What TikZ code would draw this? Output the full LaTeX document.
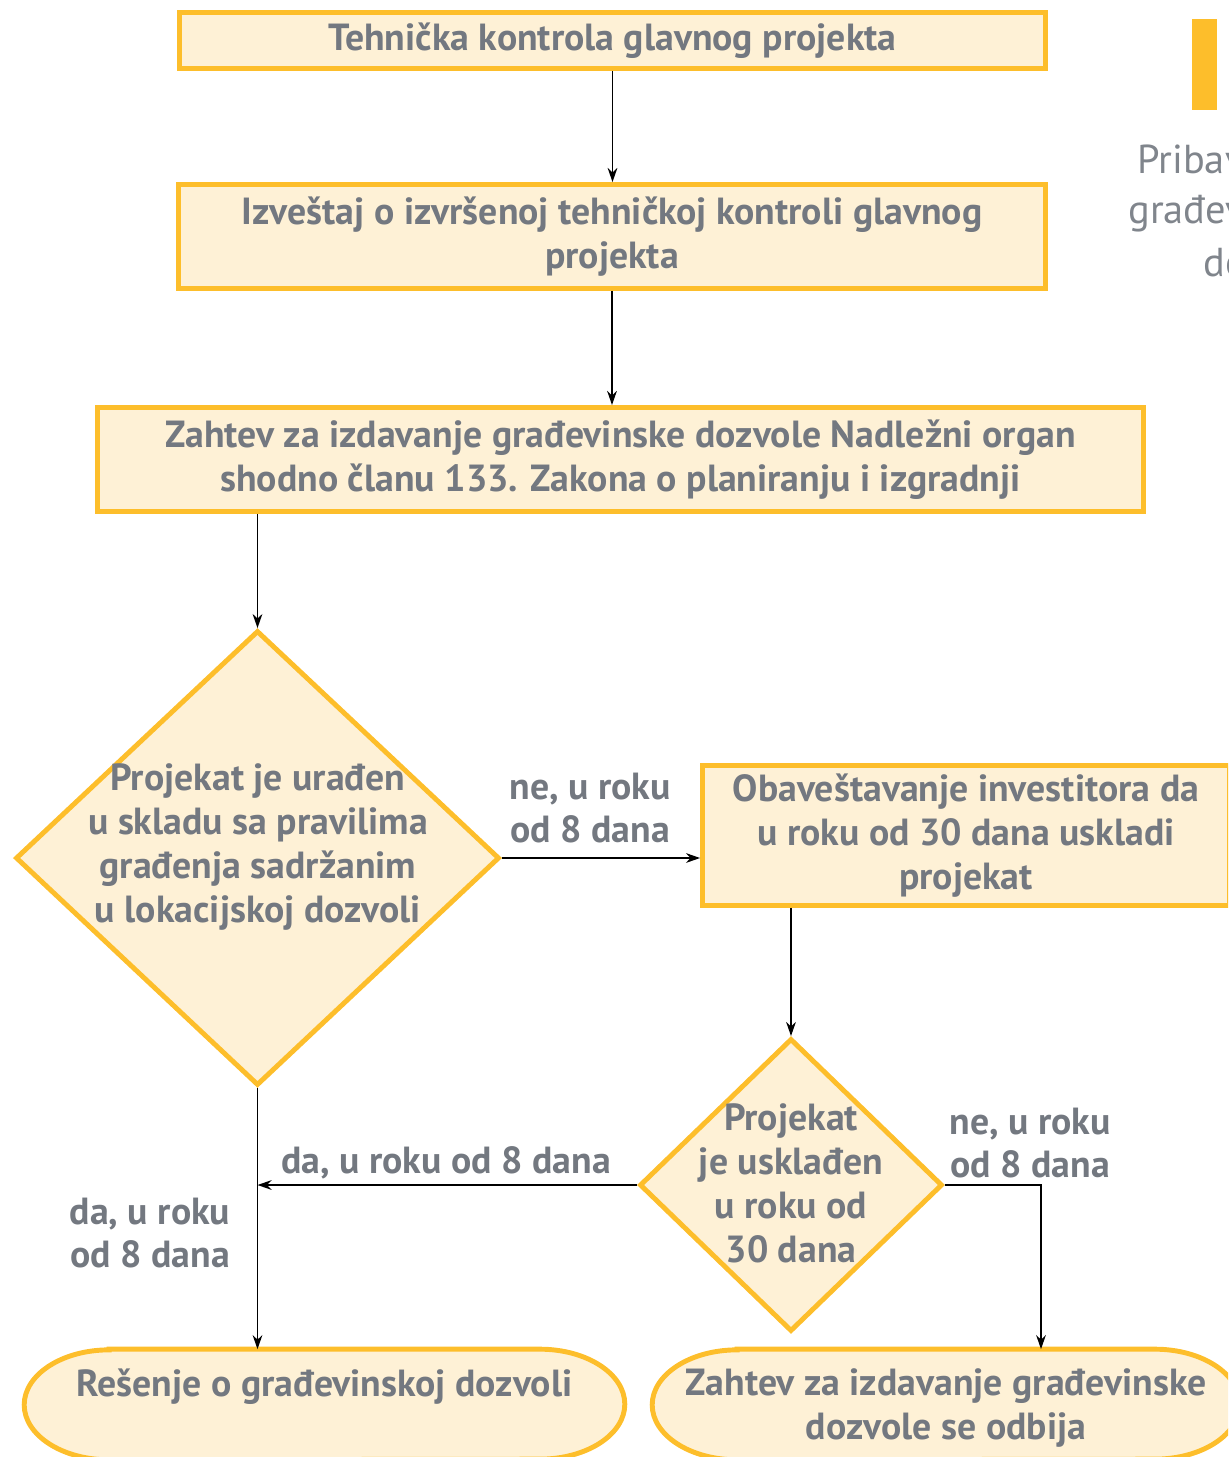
\documentclass[tikz,border=0pt]{standalone}
\usepackage{fontspec}
\setmainfont{PT Sans}
\usepackage{xcolor}
\usepackage{tikz}
\usetikzlibrary{calc,arrows.meta,positioning,shapes.geometric}

\definecolor{boxfill}{HTML}{FEF1D6}
\definecolor{boxline}{HTML}{FDBE2B}
\definecolor{txtgray}{HTML}{737880}
\definecolor{sidegray}{HTML}{80858C}
\newcommand{\flowfont}{\fontsize{21.5}{25}\selectfont\bfseries}
\newcommand{\sidefont}{\fontsize{23}{28}\selectfont}

\tikzset{
  box/.style={draw=boxline, fill=boxfill, line width=2.8pt, align=center,
    inner sep=0pt, font=\flowfont, text=txtgray},
  decision/.style={diamond, draw=boxline, fill=boxfill, line width=2.8pt,
    inner sep=0pt},
  termshape/.style={draw=boxline, fill=boxfill, line width=2.8pt},
  flowtext/.style={align=center, inner sep=0pt, font=\flowfont, text=txtgray},
  sidetext/.style={anchor=west, inner sep=0pt, text=sidegray, font=\sidefont},
  flow/.style={->, line width=1.1pt}
}

\begin{document}
\begin{tikzpicture}[x=0.02cm, y=0.02cm, >={Stealth[length=8pt,width=5.5pt]}]
    \useasboundingbox (0,0) rectangle (1228,-1457);
    \clip (0,0) rectangle (1228,-1457);

    % Top boxes
    \node[box, minimum width=17.32cm, minimum height=1.12cm] (b1) at (612.5,-40.5)
        {Tehnička kontrola glavnog projekta};
    \node[box, minimum width=17.34cm, minimum height=2.08cm] (b2) at (612,-236.5)
        {Izveštaj o izvršenoj tehničkoj kontroli glavnog\\projekta};
    \node[box, minimum width=20.92cm, minimum height=2.08cm] (b3) at (620.5,-459.5)
        {Zahtev za izdavanje građevinske dozvole Nadležni organ\\shodno članu 133. Zakona o planiranju i izgradnji};

    % Decisions
    \node[decision, minimum width=9.68cm, minimum height=9.1cm] (d1) at (257.5,-858) {};
    \node[flowtext] (d1txt) at (258,-847) {Projekat je urađen\\u skladu sa pravilima\\građenja sadržanim\\u lokacijskoj dozvoli};
    \node[box, minimum width=10.54cm, minimum height=2.8cm] (b4) at (966,-835.5)
        {Obaveštavanje investitora da\\u roku od 30 dana uskladi\\projekat};
    \node[decision, minimum width=6.06cm, minimum height=5.86cm] (d2) at (791,-1185) {};
    \node[flowtext] (d2txt) at (791,-1183) {Projekat\\je usklađen\\u roku od\\30 dana};

    % End shapes
    \node[minimum width=12cm, minimum height=2.2cm, inner sep=0pt] (t1) at (324.5,-1404.5) {};
    \node[minimum width=11.74cm, minimum height=2.2cm, inner sep=0pt] (t2) at (946,-1404.5) {};
    \draw[termshape] ([xshift=1.7cm]t1.north west) -- ([xshift=-1.7cm]t1.north east)
        arc[start angle=90, end angle=-90, x radius=85, y radius=55]
        -- ([xshift=1.7cm]t1.south west)
        arc[start angle=270, end angle=90, x radius=85, y radius=55] -- cycle;
    \draw[termshape] ([xshift=1.7cm]t2.north west) -- ([xshift=-1.7cm]t2.north east)
        arc[start angle=90, end angle=-90, x radius=85, y radius=55]
        -- ([xshift=1.7cm]t2.south west)
        arc[start angle=270, end angle=90, x radius=85, y radius=55] -- cycle;
    \node[flowtext, anchor=north] (t1txt) at (324.5,-1368) {Rešenje o građevinskoj dozvoli};
    \node[flowtext, anchor=north] (t2txt) at (946,-1368) {Zahtev za izdavanje građevinske\\dozvole se odbija};

    % Connectors
    \draw[flow] (b1.south) -- (b1.south |- b2.north);
    \draw[flow] (b2.south) -- (b2.south |- b3.north);
    \draw[flow] (b3.south -| d1.north) -- (d1.north);
    \draw[flow] (d1.east) -- (d1.east -| b4.west);
    \draw[flow] (b4.south -| d2.north) -- (d2.north);
    \draw[flow] (d2.west) -- (d2.west -| d1.south);
    \draw[flow] (d1.south) -- (d1.south |- t1.north);
    \coordinate (k) at (1041,-1185);
    \draw[flow] (d2.east) -- (k) -- (k |- t2.north);

    % Connector labels
    \node[flowtext] (l1) at (590,-808) {ne, u roku\\od 8 dana};
    \node[flowtext] (l2) at (446,-1163) {da, u roku od 8 dana};
    \node[flowtext] (l3) at (150,-1233) {da, u roku\\od 8 dana};
    \node[flowtext] (l4) at (1030,-1143) {ne, u roku\\od 8 dana};

    % Side legend (cut off at the right)
    \fill[boxline] (1192,-19) rectangle (1217,-110);
    \node[sidetext] (s1) at (1137,-163) {Pribavljanje};
    \node[sidetext] (s2) at (1128,-213) {građevinske};
    \node[sidetext] (s3) at (1203,-263) {dozvole};
\end{tikzpicture}
\end{document}
